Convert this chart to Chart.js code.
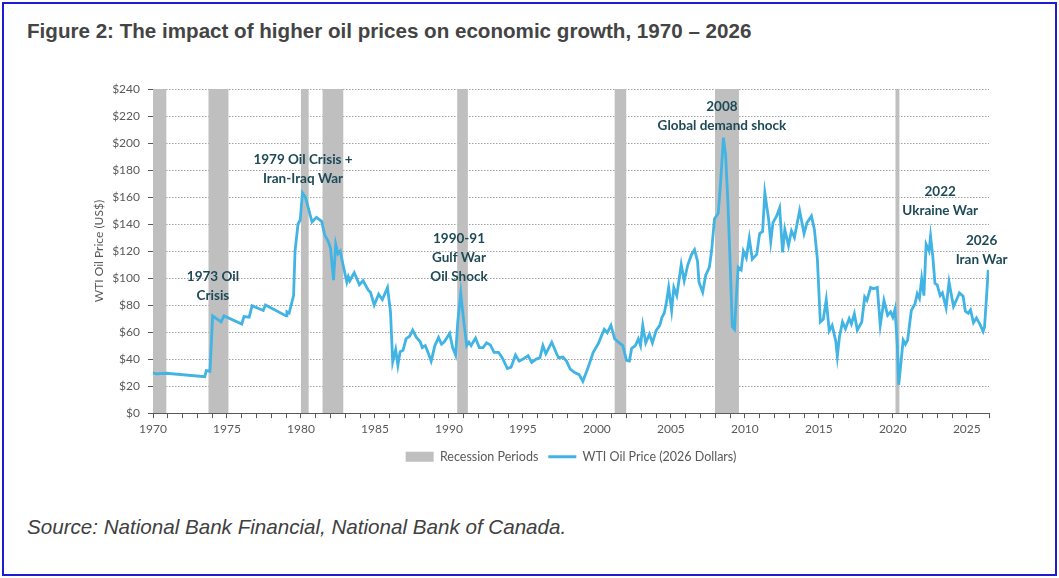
<!DOCTYPE html>
<html>
<head>
<meta charset="utf-8">
<script src="https://cdn.jsdelivr.net/npm/chart.js@4.4.1/dist/chart.umd.min.js"></script>
<style>
  html, body { margin: 0; padding: 0; background: #fff; }
  #frame { position: absolute; left: 2px; top: 2px; width: 1055px; height: 574px; box-sizing: border-box; border: 2px solid #1c1cd4; }
  #title { position: absolute; left: 27px; top: 19px; font: bold 20.6px "Liberation Sans", Arial, sans-serif; color: #444; white-space: nowrap; }
  #source { position: absolute; left: 27px; top: 515px; font: italic 20.6px "Liberation Sans", Arial, sans-serif; color: #404040; white-space: nowrap; }
  #wrap { position: absolute; left: 0; top: 60px; width: 1059px; height: 420px; }
</style>
</head>
<body>
<div id="frame"></div>
<div id="title">Figure 2: The impact of higher oil prices on economic growth, 1970 – 2026</div>
<div id="wrap"><canvas id="chart"></canvas></div>
<div id="source">Source: National Bank Financial, National Bank of Canada.</div>
<script>
// recession periods, [start, end] in decimal years
const recessions = [
  [1970.0, 1970.9], [1973.75, 1975.1], [1980.0, 1980.52], [1981.46, 1982.86],
  [1990.56, 1991.28], [2001.2, 2001.98], [2007.98, 2009.6], [2020.18, 2020.46]
];

// WTI oil price in 2026 dollars
const oilYears = [
  1970.0, 1970.2, 1970.9, 1973.5, 1973.6, 1973.85, 1974.03, 1974.6, 1974.8, 1976.0,
  1976.15, 1976.5, 1976.7, 1977.45, 1977.6, 1979.0, 1979.05, 1979.2, 1979.5, 1979.6,
  1979.8, 1979.95, 1980.1, 1980.3, 1980.75, 1981.05, 1981.4, 1981.6, 1981.85, 1982.0,
  1982.2, 1982.35, 1982.5, 1982.65, 1982.8, 1983.1, 1983.2, 1983.3, 1983.6, 1983.95,
  1984.2, 1984.55, 1984.7, 1984.95, 1985.25, 1985.5, 1985.85, 1986.05, 1986.2, 1986.4,
  1986.55, 1986.7, 1986.9, 1987.1, 1987.35, 1987.55, 1987.8, 1988.05, 1988.2, 1988.4,
  1988.55, 1988.8, 1989.05, 1989.3, 1989.5, 1989.7, 1990.05, 1990.25, 1990.45, 1990.6,
  1990.8, 1990.95, 1991.2, 1991.35, 1991.5, 1991.8, 1992.05, 1992.3, 1992.55, 1992.8,
  1993.05, 1993.35, 1993.6, 1993.95, 1994.2, 1994.5, 1994.75, 1995.0, 1995.35, 1995.6,
  1995.9, 1996.15, 1996.35, 1996.55, 1996.95, 1997.2, 1997.4, 1997.7, 1997.95, 1998.2,
  1998.5, 1998.8, 1999.05, 1999.4, 1999.75, 2000.1, 2000.3, 2000.5, 2000.7, 2000.95,
  2001.2, 2001.45, 2001.75, 2002.0, 2002.2, 2002.35, 2002.6, 2002.8, 2002.95, 2003.1,
  2003.3, 2003.55, 2003.75, 2004.0, 2004.25, 2004.4, 2004.55, 2004.7, 2004.85, 2005.05,
  2005.2, 2005.4, 2005.7, 2005.9, 2006.15, 2006.4, 2006.6, 2006.8, 2006.9, 2007.15,
  2007.35, 2007.6, 2007.75, 2007.95, 2008.2, 2008.35, 2008.55, 2008.7, 2008.85, 2009.0,
  2009.15, 2009.3, 2009.45, 2009.55, 2009.75, 2009.9, 2010.1, 2010.3, 2010.5, 2010.8,
  2011.0, 2011.2, 2011.35, 2011.6, 2011.75, 2011.9, 2012.15, 2012.35, 2012.55, 2012.7,
  2012.95, 2013.15, 2013.35, 2013.7, 2014.0, 2014.2, 2014.5, 2014.7, 2014.9, 2015.1,
  2015.3, 2015.5, 2015.7, 2015.9, 2016.15, 2016.25, 2016.4, 2016.6, 2016.8, 2017.05,
  2017.2, 2017.4, 2017.6, 2017.9, 2018.1, 2018.25, 2018.5, 2018.7, 2018.95, 2019.15,
  2019.4, 2019.65, 2019.85, 2020.0, 2020.15, 2020.3, 2020.4, 2020.7, 2020.85, 2021.0,
  2021.25, 2021.5, 2021.65, 2021.8, 2021.95, 2022.1, 2022.25, 2022.45, 2022.55, 2022.7,
  2022.85, 2023.0, 2023.2, 2023.35, 2023.6, 2023.8, 2024.1, 2024.35, 2024.5, 2024.75,
  2024.9, 2025.1, 2025.25, 2025.45, 2025.65, 2025.9, 2026.1, 2026.2, 2026.45
];
const oilPrices = [
  30, 29, 29.5, 27, 31.5, 31, 72, 67.5, 72, 66,
  71.5, 71, 79.5, 76, 80, 72, 75, 74, 87, 120,
  140, 143, 163, 160, 141.5, 145, 142, 132, 127, 122,
  98.5, 125, 118, 120, 112, 97, 101, 98, 104, 95,
  98, 91, 89.5, 80, 88, 84, 93, 75, 38, 47,
  35.5, 45.5, 46.5, 55, 57, 61.5, 56, 53, 48.5, 50,
  46, 38.5, 50, 56, 51, 53, 59, 48.5, 43, 68,
  89, 73, 50, 52.5, 50, 55.5, 48.5, 48.5, 52, 50.5,
  45, 45, 41, 33, 34, 43, 38.5, 40, 42.5, 37.5,
  40, 41, 50, 44, 52.5, 46, 41, 41.5, 38.5, 32.5,
  30, 28.5, 23.5, 33.5, 45, 51.5, 57, 62, 59.5, 65,
  55, 52.5, 50, 39, 38.5, 48, 50, 55, 50, 65,
  52, 58.5, 52, 61, 65, 71, 74, 82, 93, 76,
  93, 87, 110, 98, 110, 117.5, 121, 112.5, 97, 89.5,
  102, 108, 120, 144, 148, 169, 204, 191, 157, 113,
  64, 62, 91, 108, 106, 120, 115, 129.5, 114, 117.5,
  133, 134.5, 163, 144, 127, 141, 146, 152, 119, 136,
  124, 135, 130, 150, 133, 141, 146, 136, 114, 67.5,
  69.5, 84, 61, 65, 53, 42, 57, 67.5, 62.5, 70,
  66, 73.5, 61.5, 67.5, 86, 83.5, 93, 92, 93, 65,
  83.5, 72.5, 75, 71, 77, 51, 21, 54, 51, 54,
  76, 81, 88.5, 85, 99.5, 87, 125, 120, 131, 116,
  96, 95, 87, 89, 78, 97, 79, 85, 89, 86.5,
  75.5, 74, 76.5, 67, 70.5, 65.5, 60.5, 64, 106
];

const xMin = 1970;
const xMax = 2026.5;
const yMax = 240;
const yStep = 20;

// event labels: text lines and where the first line sits (year, $)
const events = [
  { lines: ['1973 Oil', 'Crisis'], year: 1974.05, value: 101 },
  { lines: ['1979 Oil Crisis +', 'Iran-Iraq War'], year: 1980.14, value: 188 },
  { lines: ['1990-91', 'Gulf War', 'Oil Shock'], year: 1990.68, value: 129.5 },
  { lines: ['2008', 'Global demand shock'], year: 2008.45, value: 227 },
  { lines: ['2022', 'Ukraine War'], year: 2023.2, value: 164 },
  { lines: ['2026', 'Iran War'], year: 2026.0, value: 128 }
];

const recessionPoints = [];
recessions.forEach(([s, e]) => {
  recessionPoints.push({ x: s, y: 0 }, { x: s, y: yMax }, { x: e, y: yMax }, { x: e, y: 0 });
});
const oilPoints = oilYears.map((yr, i) => ({ x: yr, y: oilPrices[i] }));

const eventLabels = {
  id: 'eventLabels',
  afterDatasetsDraw(chart) {
    const { ctx, scales: { x, y } } = chart;
    ctx.save();
    ctx.font = 'bold 13.5px Lato, "Open Sans", sans-serif';
    ctx.fillStyle = '#1d4a56';
    ctx.textAlign = 'center';
    ctx.textBaseline = 'middle';
    events.forEach(ev => {
      const px = x.getPixelForValue(ev.year);
      const py = y.getPixelForValue(ev.value);
      ev.lines.forEach((t, i) => ctx.fillText(t, px, py + i * 19));
    });
    ctx.restore();
  }
};

const tickFont = { family: 'Lato, "Open Sans", sans-serif', size: 12 };

new Chart(document.getElementById('chart'), {
  type: 'line',
  data: {
    datasets: [{
      label: 'Recession Periods',
      data: recessionPoints,
      backgroundColor: '#bfbfbf',
      borderColor: '#bfbfbf',
      borderWidth: 0,
      pointRadius: 0,
      pointStyle: 'rect',
      fill: 'origin',
      order: 1
    }, {
      label: 'WTI Oil Price (2026 Dollars)',
      data: oilPoints,
      borderColor: '#41b4e4',
      backgroundColor: '#41b4e4',
      borderWidth: 2.8,
      pointRadius: 0,
      pointStyle: 'line',
      tension: 0,
      fill: false,
      order: 0
    }]
  },
  options: {
    responsive: true,
    maintainAspectRatio: false,
    animation: false,
    layout: { padding: { left: 88, right: 70, top: 29, bottom: 7 } },
    plugins: {
      legend: {
        position: 'bottom',
        fullSize: false,
        labels: {
          usePointStyle: true,
          pointStyleWidth: 28,
          boxHeight: 10,
          color: '#595959',
          font: { family: 'Lato, "Open Sans", sans-serif', size: 12.5 },
          padding: 10,
          sort: (a, b) => a.datasetIndex - b.datasetIndex
        }
      },
      tooltip: { enabled: false }
    },
    scales: {
      x: {
        type: 'linear',
        min: xMin,
        max: xMax,
        grid: { drawOnChartArea: false, tickLength: 5, color: '#595959' },
        border: { color: '#595959' },
        ticks: {
          stepSize: 1,
          autoSkip: false,
          maxRotation: 0,
          color: '#595959',
          font: tickFont,
          padding: 4,
          callback: v => (Number.isInteger(v) && v % 5 === 0) ? String(v) : ''
        }
      },
      y: {
        min: 0,
        max: yMax,
        afterFit: s => { s.width = 65; },
        title: { display: true, text: 'WTI Oil Price (US$)', color: '#595959', font: tickFont },
        grid: { color: '#a0a0a0', tickLength: 5, tickColor: '#595959', tickBorderDash: [] },
        border: { color: '#595959', dash: [1.5, 1.5] },
        ticks: {
          stepSize: yStep,
          color: '#595959',
          font: tickFont,
          padding: 8,
          callback: v => '$' + v
        }
      }
    }
  },
  plugins: [eventLabels]
});
</script>
</body>
</html>
